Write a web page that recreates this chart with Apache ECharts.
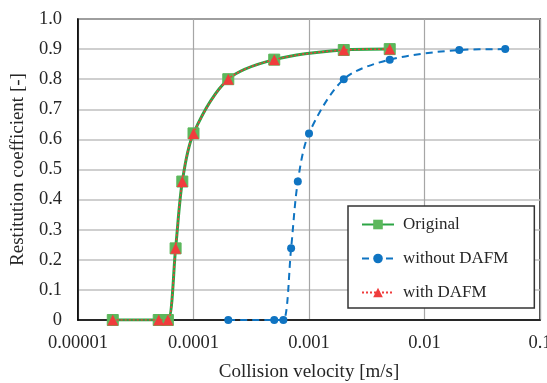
<!DOCTYPE html>
<html>
<head>
<meta charset="utf-8">
<script src="https://cdn.jsdelivr.net/npm/echarts@6/dist/echarts.min.js"></script>
<style>html,body{margin:0;padding:0;background:#fff}#c{width:547px;height:383px}</style>
</head>
<body>
<div id="c"></div>
<script>
// Data
const xOriginal = [2e-5, 5e-5, 6e-5, 7e-5, 8e-5, 1e-4, 2e-4, 5e-4, 2e-3, 5e-3];
const yOriginal = [0, 0, 0, 0.238, 0.46, 0.62, 0.80, 0.865, 0.897, 0.90];
const xWithout = [2e-4, 5e-4, 6e-4, 7e-4, 8e-4, 1e-3, 2e-3, 5e-3, 2e-2, 5e-2];
const yWithout = [0, 0, 0, 0.238, 0.46, 0.62, 0.80, 0.865, 0.897, 0.90];
const xWith = [2e-5, 5e-5, 6e-5, 7e-5, 8e-5, 1e-4, 2e-4, 5e-4, 2e-3, 5e-3];
const yWith = [0, 0, 0, 0.238, 0.46, 0.62, 0.80, 0.865, 0.897, 0.90];
const xTickLabels = ['0.00001', '0.0001', '0.001', '0.01', '0.1'];
const seriesNames = ['Original', 'without DAFM', 'with DAFM'];

const FONT = '"Liberation Serif", "Times New Roman", serif';
const TXT = '#262626';
const pairs = (xs, ys) => xs.map((x, i) => [x, ys[i]]);

const chart = echarts.init(document.getElementById('c'), null, {renderer: 'canvas'});
chart.setOption({
  animation: false,
  backgroundColor: '#fff',
  textStyle: {fontFamily: FONT, color: TXT},
  grid: {left: 78, right: 7, top: 19, bottom: 63, containLabel: false, outerBoundsMode: 'none',
    show: true, borderColor: '#000', borderWidth: 1.5, backgroundColor: 'transparent'},
  legend: {
    left: 348, top: 206,
    orient: 'vertical',
    data: seriesNames,
    itemWidth: 32, itemHeight: 12, itemGap: 17,
    padding: [10, 26, 7, 13],
    borderColor: '#333', borderWidth: 1.5, backgroundColor: '#fff',
    textStyle: {fontFamily: FONT, fontSize: 17, color: TXT, padding: [0, 0, 0, 4]}
  },
  xAxis: {
    type: 'log', logBase: 10, min: 1e-5, max: 0.1,
    name: 'Collision velocity [m/s]', nameLocation: 'middle', nameGap: 43,
    nameTextStyle: {fontFamily: FONT, fontSize: 19, color: TXT},
    axisLine: {show: true, lineStyle: {color: '#000', width: 1.5}},
    axisTick: {show: false},
    axisLabel: {fontFamily: FONT, fontSize: 18.5, color: TXT, margin: 14,
      formatter: v => xTickLabels[Math.round(Math.log10(v)) + 5]},
    splitLine: {show: true, lineStyle: {color: '#a6a6a6', width: 1.2}},
    minorTick: {show: false}, minorSplitLine: {show: false}
  },
  yAxis: {
    type: 'value', min: 0, max: 1, interval: 0.1,
    name: 'Restitution coefficient [-]', nameLocation: 'middle', nameGap: 49, nameRotate: 90,
    nameTextStyle: {fontFamily: FONT, fontSize: 19, color: TXT},
    axisLine: {show: true, lineStyle: {color: '#000', width: 1.5}},
    axisTick: {show: false},
    axisLabel: {fontFamily: FONT, fontSize: 18.5, color: TXT, margin: 16,
      formatter: v => v === 0 ? '0' : v.toFixed(1)},
    splitLine: {show: true, lineStyle: {color: '#bfbfbf', width: 1.5}}
  },
  series: [
    {
      name: 'Original', type: 'line', data: pairs(xOriginal, yOriginal),
      smooth: 0.3, symbol: 'rect', symbolSize: 11,
      lineStyle: {color: '#2ca545', width: 3},
      itemStyle: {color: '#5cb85c', borderColor: '#5cb85c'},
      z: 2
    },
    {
      name: 'without DAFM', type: 'line', data: pairs(xWithout, yWithout),
      smooth: 0.3, symbol: 'circle', symbolSize: 8,
      lineStyle: {color: '#0f74c2', width: 2, type: [7, 5]},
      itemStyle: {color: '#0f74c2'},
      z: 3
    },
    {
      name: 'with DAFM', type: 'line', data: pairs(xWith, yWith),
      smooth: 0.3, symbol: 'triangle', symbolSize: 11,
      lineStyle: {color: '#f03c3c', width: 1.5, type: [2, 2]},
      itemStyle: {color: '#f03c3c'},
      z: 4
    }
  ]
});
</script>
</body>
</html>
